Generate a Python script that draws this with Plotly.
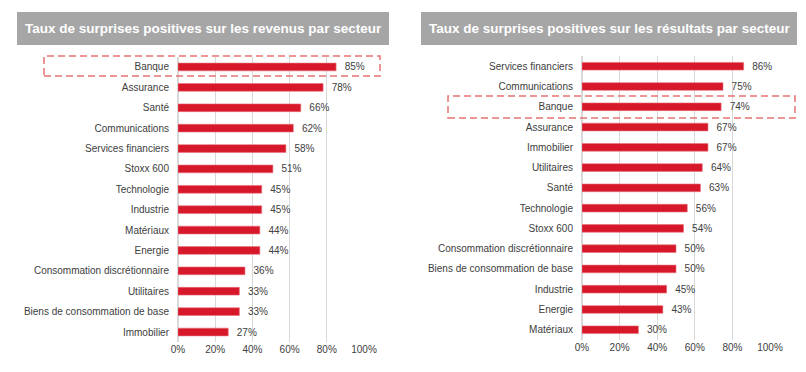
import plotly.graph_objects as go

# Left chart data (revenus)
rev_categories = ["Banque", "Assurance", "Santé", "Communications", "Services financiers",
                  "Stoxx 600", "Technologie", "Industrie", "Matériaux", "Energie",
                  "Consommation discrétionnaire", "Utilitaires",
                  "Biens de consommation de base", "Immobilier"]
rev_values = [0.85, 0.78, 0.66, 0.62, 0.58, 0.51, 0.45, 0.45, 0.44, 0.44, 0.36, 0.33, 0.33, 0.27]

# Right chart data (résultats)
res_categories = ["Services financiers", "Communications", "Banque", "Assurance", "Immobilier",
                  "Utilitaires", "Santé", "Technologie", "Stoxx 600",
                  "Consommation discrétionnaire", "Biens de consommation de base",
                  "Industrie", "Energie", "Matériaux"]
res_values = [0.86, 0.75, 0.74, 0.67, 0.67, 0.64, 0.63, 0.56, 0.54, 0.50, 0.50, 0.45, 0.43, 0.30]

x_ticks = [0, 0.2, 0.4, 0.6, 0.8, 1.0]
x_ticklabels = ["0%", "20%", "40%", "60%", "80%", "100%"]

title_left = "Taux de surprises positives sur les revenus par secteur"
title_right = "Taux de surprises positives sur les résultats par secteur"

BAR = "#d7182a"
TXT = "#404040"
GRID = "#d9d9d9"
FONT = "Liberation Sans, Arial, sans-serif"
W, H = 806, 372

fig = go.Figure()
for vals, cats, xa, ya in [(rev_values, rev_categories, "x", "y"),
                           (res_values, res_categories, "x2", "y2")]:
    fig.add_trace(go.Bar(x=vals, y=cats, orientation="h",
                         marker=dict(color=BAR, line=dict(color="#e8707c", width=0.6)),
                         text=[f"\u00a0\u00a0{v:.0%}" for v in vals], textposition="outside",
                         textfont=dict(size=10, color=TXT), cliponaxis=False,
                         constraintext="none", hoverinfo="skip",
                         xaxis=xa, yaxis=ya, width=0.38))

def xax(domain, anchor):
    return dict(domain=domain, anchor=anchor, range=[0, 1], tickvals=x_ticks,
                ticktext=x_ticklabels, showgrid=True, gridcolor=GRID, gridwidth=1,
                zeroline=True, zerolinecolor=GRID, showline=False, automargin=False,
                tickfont=dict(size=10, color=TXT), fixedrange=True)

def yax(domain, anchor, cats):
    return dict(domain=domain, anchor=anchor, categoryorder="array", categoryarray=cats,
                autorange="reversed", showgrid=False, zeroline=False, showline=False,
                automargin=False,
                tickfont=dict(size=10, color=TXT), ticklabelstandoff=8, fixedrange=True)

fig.update_layout(
    width=W, height=H, margin=dict(l=0, r=0, t=0, b=0, autoexpand=False),
    paper_bgcolor="white", plot_bgcolor="white", showlegend=False,
    font=dict(family=FONT, color=TXT),
    uniformtext=dict(mode=False),
    xaxis=xax([178 / W, 364 / W], "y"),
    yaxis=yax([0.0801, 0.8473], "x", rev_categories),
    xaxis2=xax([582 / W, 770 / W], "y2"),
    yaxis2=yax([0.0863, 0.8492], "x2", res_categories),
)

# Title banners
for x0, x1, txt in [(17, 389, title_left), (421, 797, title_right)]:
    fig.add_shape(type="rect", xref="paper", yref="paper",
                  x0=x0 / W, x1=x1 / W, y0=1 - 45 / H, y1=1 - 12 / H,
                  fillcolor="#a6a6a6", line=dict(width=0), layer="below")
    fig.add_annotation(xref="paper", yref="paper", x=(x0 + x1) / 2 / W, y=1 - 28.5 / H,
                       text=f"<b>{txt}</b>", showarrow=False,
                       font=dict(size=13.5, color="white", family=FONT),
                       xanchor="center", yanchor="middle")

# Highlight boxes around "Banque"
DASH = "#e57373"
for x0, x1, y0, y1 in [(44, 380, 56, 76), (448, 795, 96, 118)]:
    fig.add_shape(type="rect", xref="paper", yref="paper",
                  x0=x0 / W, x1=x1 / W, y0=1 - y1 / H, y1=1 - y0 / H,
                  line=dict(color=DASH, width=1.5, dash="7px,4px"), fillcolor="rgba(0,0,0,0)")

fig.write_html("out.html", config={"displayModeBar": False},
               post_script="document.body.style.margin='0px';document.body.style.overflow='hidden';")
